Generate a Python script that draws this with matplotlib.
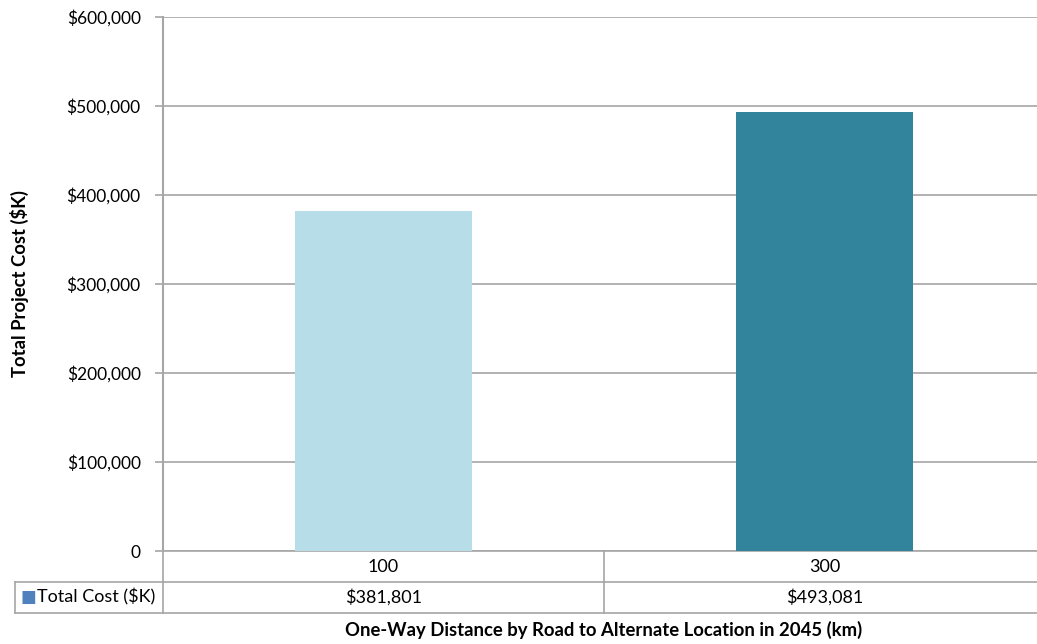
import matplotlib
matplotlib.use('Agg')

import matplotlib.pyplot as plt
from matplotlib.ticker import FuncFormatter

plt.rcParams['font.family'] = ['Lato', 'DejaVu Sans']

distances = ['100', '300']
total_cost = [381801, 493081]
bar_colors = ['#B7DDE8', '#31849B']
series_name = 'Total Cost ($K)'
legend_color = '#4F81BD'
grid_color = '#A6A6A6'

# plot area runs slightly past the right edge of the canvas
left_px, right_px, top_px, bot_px = 163, 1045, 17, 551
W, H = 1037, 644

fig = plt.figure(figsize=(W / 100, H / 100), dpi=100)
ax = fig.add_axes([left_px / W, 1 - bot_px / H, (right_px - left_px) / W, (bot_px - top_px) / H])

x = range(len(distances))
ax.bar(x, total_cost, width=0.4, color=bar_colors, zorder=3)

ax.set_xlim(-0.5, len(distances) - 0.5)
ax.set_ylim(0, 600000)
ax.set_yticks(range(0, 600001, 100000))
ax.yaxis.set_major_formatter(FuncFormatter(lambda v, p: '0' if v == 0 else '${:,.0f}'.format(v)))
ax.tick_params(axis='y', length=6, width=1.2, color=grid_color, labelsize=12.5, pad=10)
ax.set_xticks([])
ax.grid(axis='y', color=grid_color, linewidth=1.2, zorder=0)
for side in ['top', 'right', 'bottom']:
    ax.spines[side].set_visible(False)
ax.spines['left'].set_color(grid_color)
ax.spines['left'].set_linewidth(1.5)

# data table under the plot
row_h = 31 / (bot_px - top_px)
tab_left = (15 - left_px) / (right_px - left_px)
line_kw = dict(color=grid_color, linewidth=1.2, transform=ax.transAxes, clip_on=False)
ax.plot([0, 1], [0, 0], **line_kw)
ax.plot([tab_left, 1], [-row_h, -row_h], **line_kw)
ax.plot([tab_left, 1], [-2 * row_h, -2 * row_h], **line_kw)
ax.plot([0, 0], [0, -2 * row_h], **line_kw)
ax.plot([0.5, 0.5], [0, -2 * row_h], **line_kw)
ax.plot([1, 1], [0, -2 * row_h], **line_kw)
ax.plot([tab_left, tab_left], [-row_h, -2 * row_h], **line_kw)

for i, (d, c) in enumerate(zip(distances, total_cost)):
    xc = (i + 0.5) / len(distances)
    ax.text(xc, -0.5 * row_h, d, transform=ax.transAxes, ha='center', va='center', fontsize=13)
    ax.text(xc, -1.5 * row_h, '${:,.0f}'.format(c), transform=ax.transAxes,
            ha='center', va='center', fontsize=13)

fig.text(21 / W, 1 - 597 / H, '\u25A0', color=legend_color, fontsize=12,
         ha='left', va='center', family='DejaVu Sans')
fig.text(37 / W, 1 - 597 / H, series_name, fontsize=13, ha='left', va='center')

fig.text(604 / W, 1 - 630 / H, 'One-Way Distance by Road to Alternate Location in 2045 (km)',
         fontsize=13.3, fontweight='bold', ha='center', va='center')
fig.text(19 / W, 1 - 284 / H, 'Total Project Cost ($K)', rotation=90,
         fontsize=13.3, fontweight='bold', ha='center', va='center')

fig.savefig('out.png', dpi=100)
